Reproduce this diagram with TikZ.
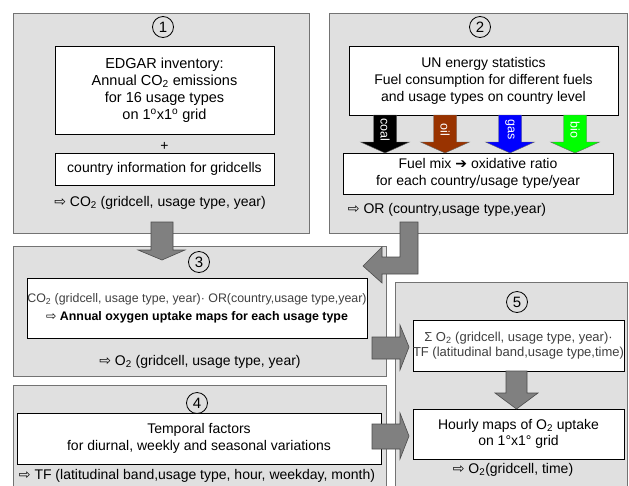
\documentclass[tikz,border=0pt]{standalone}
\usepackage{fontspec}
\setmainfont{Liberation Sans}
\newfontfamily\symfont{DejaVu Sans}
\usetikzlibrary{positioning}
\definecolor{oilbrown}{HTML}{993300}
\definecolor{biogreen}{HTML}{00FF00}
\definecolor{gasblue}{HTML}{0000FF}
\definecolor{panelgray}{HTML}{E0E0E0}
\definecolor{arrowgray}{HTML}{808080}
\newcommand{\rarr}{{\symfont ⇨}}

\begin{document}
\begin{tikzpicture}[x=1pt,y=-1pt,font=\fontsize{14}{17}\selectfont,
  panel/.style={draw=black!55,fill=panelgray,line width=0.8pt,anchor=north west},
  box/.style={draw,fill=white,align=center,inner sep=0pt,line width=0.7pt},
  outtext/.style={align=center,inner sep=0pt},
  thin text/.style={font=\fontsize{13}{15}\selectfont,text=black!75},
  num/.style={circle,draw,line width=0.8pt,minimum size=21pt,inner sep=0pt,
    font=\fontsize{15}{15}\selectfont},
  blk/.style={fill=arrowgray,draw=black!70,line width=0.6pt}]

  \useasboundingbox (0,0) rectangle (629,485);
  \clip (0,0) rectangle (629,485);

  % panels
  \node[panel,minimum width=296pt,minimum height=220pt] (panel1) at (13,13) {};
  \node[panel,minimum width=298pt,minimum height=220pt] (panel2) at (329,13) {};
  \node[panel,minimum width=373pt,minimum height=130pt] (panel3) at (13,246) {};
  \node[panel,minimum width=373pt,minimum height=110pt] (panel4) at (13,385) {};
  \node[panel,minimum width=232pt,minimum height=210pt] (panel5) at (395,282) {};

  % 1
  \node[num] (num1) at (163,27) {1};
  \node[box,minimum width=219pt,minimum height=88pt,font=\fontsize{14.5}{17}\selectfont] (edgar) at (164.5,90)
    {EDGAR inventory:\\Annual CO\textsubscript{2} emissions\\for 16 usage types\\on 1\textsuperscript{o}x1\textsuperscript{o} grid};
  \node[outtext] (plus) at (164.5,146) {+};
  \node[box,minimum width=219pt,minimum height=32pt] (country) at (164.5,169)
    {country information for gridcells};
  \node[outtext] (out1) at (160,203) {\rarr\ CO\textsubscript{2} (gridcell, usage type, year)};

  % 2
  \node[num] (num2) at (480,27) {2};
  \node[box,minimum width=269pt,minimum height=69pt] (unstat) at (483.5,80.5)
    {UN energy statistics\\Fuel consumption for different fuels\\and usage types on country level};
  \node[box,minimum width=270pt,minimum height=41pt] (fuelmix) at (478,173.5)
    {Fuel mix {\symfont ➔} oxidative ratio\\for each country/usage type/year};
  \node[outtext] (out2) at (447,210) {\rarr\ OR (country,usage type,year)};

  \foreach \x/\col/\fuel in {385/black/coal,445/oilbrown/oil,510/gasblue/gas,575/biogreen/bio}{
    \draw[fill=\col,draw=black!60,line width=0.4pt] (\x-11.5,115) -- (\x+11.5,115) -- (\x+11.5,142)
      -- (\x+24.5,142) -- (\x,153) -- (\x-24.5,142) -- (\x-11.5,142) -- cycle;
    \node[rotate=-90,text=white,inner sep=0pt,font=\fontsize{12.5}{12.5}\selectfont] (\fuel) at (\x,130) {\fuel};
  }

  % 3
  \node[num] (num3) at (199,262) {3};
  \node[box,minimum width=340pt,minimum height=60pt,font=\fontsize{12.4}{18}\selectfont] (uptake) at (197,308)
    {{\color{black!75}CO\textsubscript{2} (gridcell, usage type, year)· OR(country,usage type,year)}\\
     \rarr\ \textbf{Annual oxygen uptake maps for each usage type}};
  \node[outtext] (out3) at (200,362) {\rarr\ O\textsubscript{2} (gridcell, usage type, year)};

  % 4
  \node[num] (num4) at (197,403) {4};
  \node[box,minimum width=364pt,minimum height=51pt] (temporal) at (199,438.5)
    {Temporal factors\\for diurnal, weekly and seasonal variations};
  \node[outtext] (out4) at (197,476) {\rarr\ TF (latitudinal band,usage type, hour, weekday, month)};

  % 5
  \node[num] (num5) at (517,302) {5};
  \node[box,minimum width=211pt,minimum height=51pt,thin text] (product) at (518.5,345.5)
    {Σ O\textsubscript{2} (gridcell, usage type, year)·\\TF (latitudinal band,usage type,time)};
  \node[box,minimum width=211pt,minimum height=50pt,font=\fontsize{14}{16}\selectfont] (hourly) at (518.5,434)
    {Hourly maps of O\textsubscript{2} uptake\\on 1°x1° grid};
  \node[outtext] (out5) at (513,470) {\rarr\ O\textsubscript{2}(gridcell, time)};

  % block arrows
  \draw[blk] (151,222) -- (173,222) -- (173,250) -- (185,250) -- (162,260)
    -- (138,250) -- (151,250) -- cycle;
  \draw[blk] (400,222) -- (418,222) -- (418,274) -- (382,274) -- (382,283)
    -- (363,266) -- (382,247) -- (382,257) -- (400,257) -- cycle;
  \draw[blk] (372,337) -- (400,337) -- (400,325) -- (409,347) -- (400,370)
    -- (400,359) -- (372,359) -- cycle;
  \draw[blk] (372,424) -- (400,424) -- (400,413) -- (409,436) -- (400,459)
    -- (400,449) -- (372,449) -- cycle;
  \draw[blk] (506,371) -- (527,371) -- (527,393) -- (538,393) -- (516.5,409)
    -- (495,393) -- (506,393) -- cycle;

\end{tikzpicture}
\end{document}
